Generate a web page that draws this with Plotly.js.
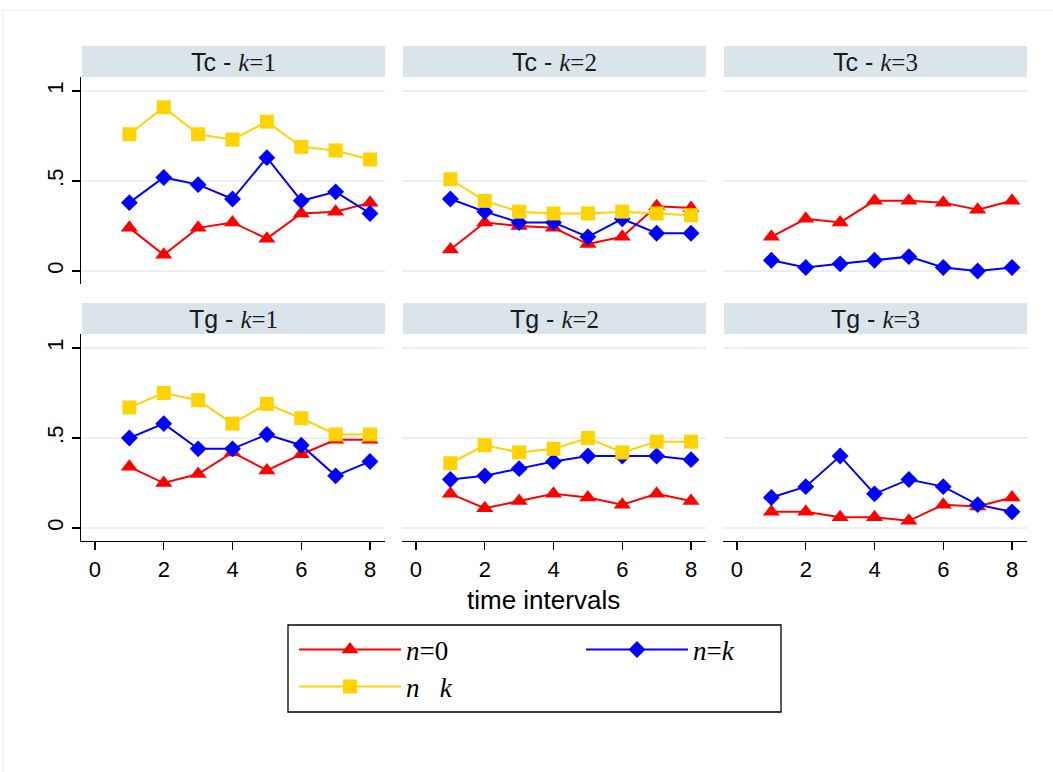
<!DOCTYPE html>
<html>
<head>
<meta charset="utf-8">
<script src="https://cdn.plot.ly/plotly-3.0.1.min.js"></script>
<style>html,body{margin:0;padding:0;background:#fff;}#chart{width:1053px;height:772px;}</style>
</head>
<body>
<div id="chart"></div>
<script>
// ---- data ----
const intervals = [1, 2, 3, 4, 5, 6, 7, 8];
const xTicks = [0, 2, 4, 6, 8];
const yTicks = [0, 0.5, 1];
const yTickText = ['0', '.5', '1'];
const panelTitles = ['Tc - ', 'Tc - ', 'Tc - ', 'Tg - ', 'Tg - ', 'Tg - '];
const panelK = ['1', '2', '3', '1', '2', '3'];
const seriesNames = ['<i>n</i>=0', '<i>n</i>=<i>k</i>', '<i>n</i>   <i>k</i>'];
const xTitle = 'time intervals';

const tc_k1_n0  = [0.24, 0.09, 0.24, 0.27, 0.18, 0.32, 0.33, 0.38];
const tc_k1_nk  = [0.38, 0.52, 0.48, 0.40, 0.63, 0.39, 0.44, 0.32];
const tc_k1_ngt = [0.76, 0.91, 0.76, 0.73, 0.83, 0.69, 0.67, 0.62];
const tc_k2_n0  = [0.12, 0.27, 0.25, 0.24, 0.15, 0.19, 0.36, 0.35];
const tc_k2_nk  = [0.40, 0.33, 0.27, 0.27, 0.19, 0.29, 0.21, 0.21];
const tc_k2_ngt = [0.51, 0.39, 0.33, 0.32, 0.32, 0.33, 0.32, 0.31];
const tc_k3_n0  = [0.19, 0.29, 0.27, 0.39, 0.39, 0.38, 0.34, 0.39];
const tc_k3_nk  = [0.06, 0.02, 0.04, 0.06, 0.08, 0.02, 0.00, 0.02];
const tg_k1_n0  = [0.34, 0.25, 0.30, 0.42, 0.32, 0.41, 0.49, 0.49];
const tg_k1_nk  = [0.50, 0.58, 0.44, 0.44, 0.52, 0.46, 0.29, 0.37];
const tg_k1_ngt = [0.67, 0.75, 0.71, 0.58, 0.69, 0.61, 0.52, 0.52];
const tg_k2_n0  = [0.19, 0.11, 0.15, 0.19, 0.17, 0.13, 0.19, 0.15];
const tg_k2_nk  = [0.27, 0.29, 0.33, 0.37, 0.40, 0.40, 0.40, 0.38];
const tg_k2_ngt = [0.36, 0.46, 0.42, 0.44, 0.50, 0.42, 0.48, 0.48];
const tg_k3_n0  = [0.09, 0.09, 0.06, 0.06, 0.04, 0.13, 0.12, 0.17];
const tg_k3_nk  = [0.17, 0.23, 0.40, 0.19, 0.27, 0.23, 0.13, 0.09];

const panels = [
  [tc_k1_n0, tc_k1_nk, tc_k1_ngt],
  [tc_k2_n0, tc_k2_nk, tc_k2_ngt],
  [tc_k3_n0, tc_k3_nk, null],
  [tg_k1_n0, tg_k1_nk, tg_k1_ngt],
  [tg_k2_n0, tg_k2_nk, tg_k2_ngt],
  [tg_k3_n0, tg_k3_nk, null]
];

// ---- styling ----
const W = 1053, H = 772;
const px = p => p / W;
const py = p => 1 - p / H;
const colors = ['#FF0000', '#0000FF', '#FFD200'];
const symbols = ['triangle-up', 'diamond', 'square'];
const sizes = [15, 13, 14];
const colPx = [[81, 385], [402, 706], [723, 1027]];
const rowPx = [[77, 284], [334, 541]];
const headPx = [[46, 77], [303, 334]];
const gridColor = '#E9F0F2';
const stripColor = '#D9E5EA';
const sans = 'Liberation Sans, Arial, sans-serif';

const traces = [];
const layout = {
  width: W, height: H,
  margin: {l: 0, r: 0, t: 0, b: 0},
  paper_bgcolor: '#fff', plot_bgcolor: '#fff',
  font: {family: sans, color: '#000'},
  shapes: [], annotations: []
};

panels.forEach((series, i) => {
  const row = i < 3 ? 0 : 1, col = i % 3;
  const n = i + 1, sfx = n === 1 ? '' : String(n);
  layout['xaxis' + sfx] = {
    domain: [px(colPx[col][0]), px(colPx[col][1])],
    range: [-0.407, 8.436], anchor: 'y' + sfx,
    showgrid: false, zeroline: false,
    showline: row === 1, linecolor: '#000', linewidth: 1.3,
    ticks: row === 1 ? 'outside' : '', ticklen: 8, tickwidth: 1.3, tickcolor: '#000',
    tickvals: xTicks, showticklabels: row === 1,
    tickfont: {size: 22, family: sans, color: '#000'},
    automargin: false, fixedrange: true
  };
  layout['yaxis' + sfx] = {
    domain: [py(rowPx[row][1]), py(rowPx[row][0])],
    range: [-0.072, 1.078], anchor: 'x' + sfx,
    showgrid: true, gridcolor: gridColor, gridwidth: 1.6, zeroline: false,
    showline: col === 0, linecolor: '#000', linewidth: 1.3,
    ticks: col === 0 ? 'outside' : '', ticklen: 8, tickwidth: 1.3, tickcolor: '#000',
    tickvals: yTicks, ticktext: yTickText, showticklabels: col === 0, tickangle: -90,
    tickfont: {size: 22, family: sans, color: '#000'},
    automargin: false, fixedrange: true
  };
  // strip header
  layout.shapes.push({
    type: 'rect', xref: 'paper', yref: 'paper', layer: 'below',
    x0: px(colPx[col][0] + 1), x1: px(colPx[col][1]),
    y0: py(headPx[row][1]), y1: py(headPx[row][0]),
    fillcolor: stripColor, line: {width: 0}
  });
  layout.annotations.push({
    xref: 'paper', yref: 'paper', showarrow: false,
    x: px((colPx[col][0] + colPx[col][1]) / 2), y: py((headPx[row][0] + headPx[row][1]) / 2),
    xanchor: 'center', yanchor: 'middle',
    text: panelTitles[i] + "<span style=\"font-family:'Liberation Serif'\"><i>k</i>=" + panelK[i] + '</span>',
    font: {size: 25, color: '#1a1a1a', family: sans}
  });
  series.forEach((vals, s) => {
    if (!vals) return;
    traces.push({
      type: 'scatter', mode: 'lines+markers',
      x: intervals, y: vals,
      xaxis: 'x' + sfx, yaxis: 'y' + sfx,
      name: seriesNames[s],
      line: {color: colors[s], width: 2},
      marker: {symbol: symbols[s], size: sizes[s], color: colors[s], line: {width: 0}},
      showlegend: i === 0,
      legend: s === 0 ? 'legend' : 'legend' + (s + 1),
      hoverinfo: 'x+y'
    });
  });
});

// x axis title
layout.annotations.push({
  xref: 'paper', yref: 'paper', showarrow: false,
  x: px(543), y: py(600), xanchor: 'center', yanchor: 'middle',
  text: xTitle, font: {size: 26, color: '#000', family: sans}
});

// outer frame & legend box
layout.shapes.push({
  type: 'rect', xref: 'paper', yref: 'paper', layer: 'below',
  x0: px(3), x1: 1.02, y0: -0.02, y1: py(10),
  line: {color: '#E6ECEC', width: 1}, fillcolor: 'rgba(0,0,0,0)'
});
layout.shapes.push({
  type: 'rect', xref: 'paper', yref: 'paper',
  x0: px(288), x1: px(781), y0: py(712), y1: py(625),
  line: {color: '#000', width: 1.3}, fillcolor: 'rgba(0,0,0,0)'
});

const legendBase = {
  xanchor: 'left', yanchor: 'middle', bgcolor: 'rgba(0,0,0,0)', borderwidth: 0,
  font: {family: 'Liberation Serif, Times New Roman, serif', size: 27, color: '#000'},
  itemwidth: 102, itemsizing: 'trace', orientation: 'v', itemclick: false, itemdoubleclick: false
};
layout.legend  = Object.assign({}, legendBase, {x: px(294), y: py(650)});
layout.legend2 = Object.assign({}, legendBase, {x: px(581), y: py(650)});
layout.legend3 = Object.assign({}, legendBase, {x: px(294), y: py(687)});

Plotly.newPlot('chart', traces, layout, {displayModeBar: false, staticPlot: true});
</script>
</body>
</html>
